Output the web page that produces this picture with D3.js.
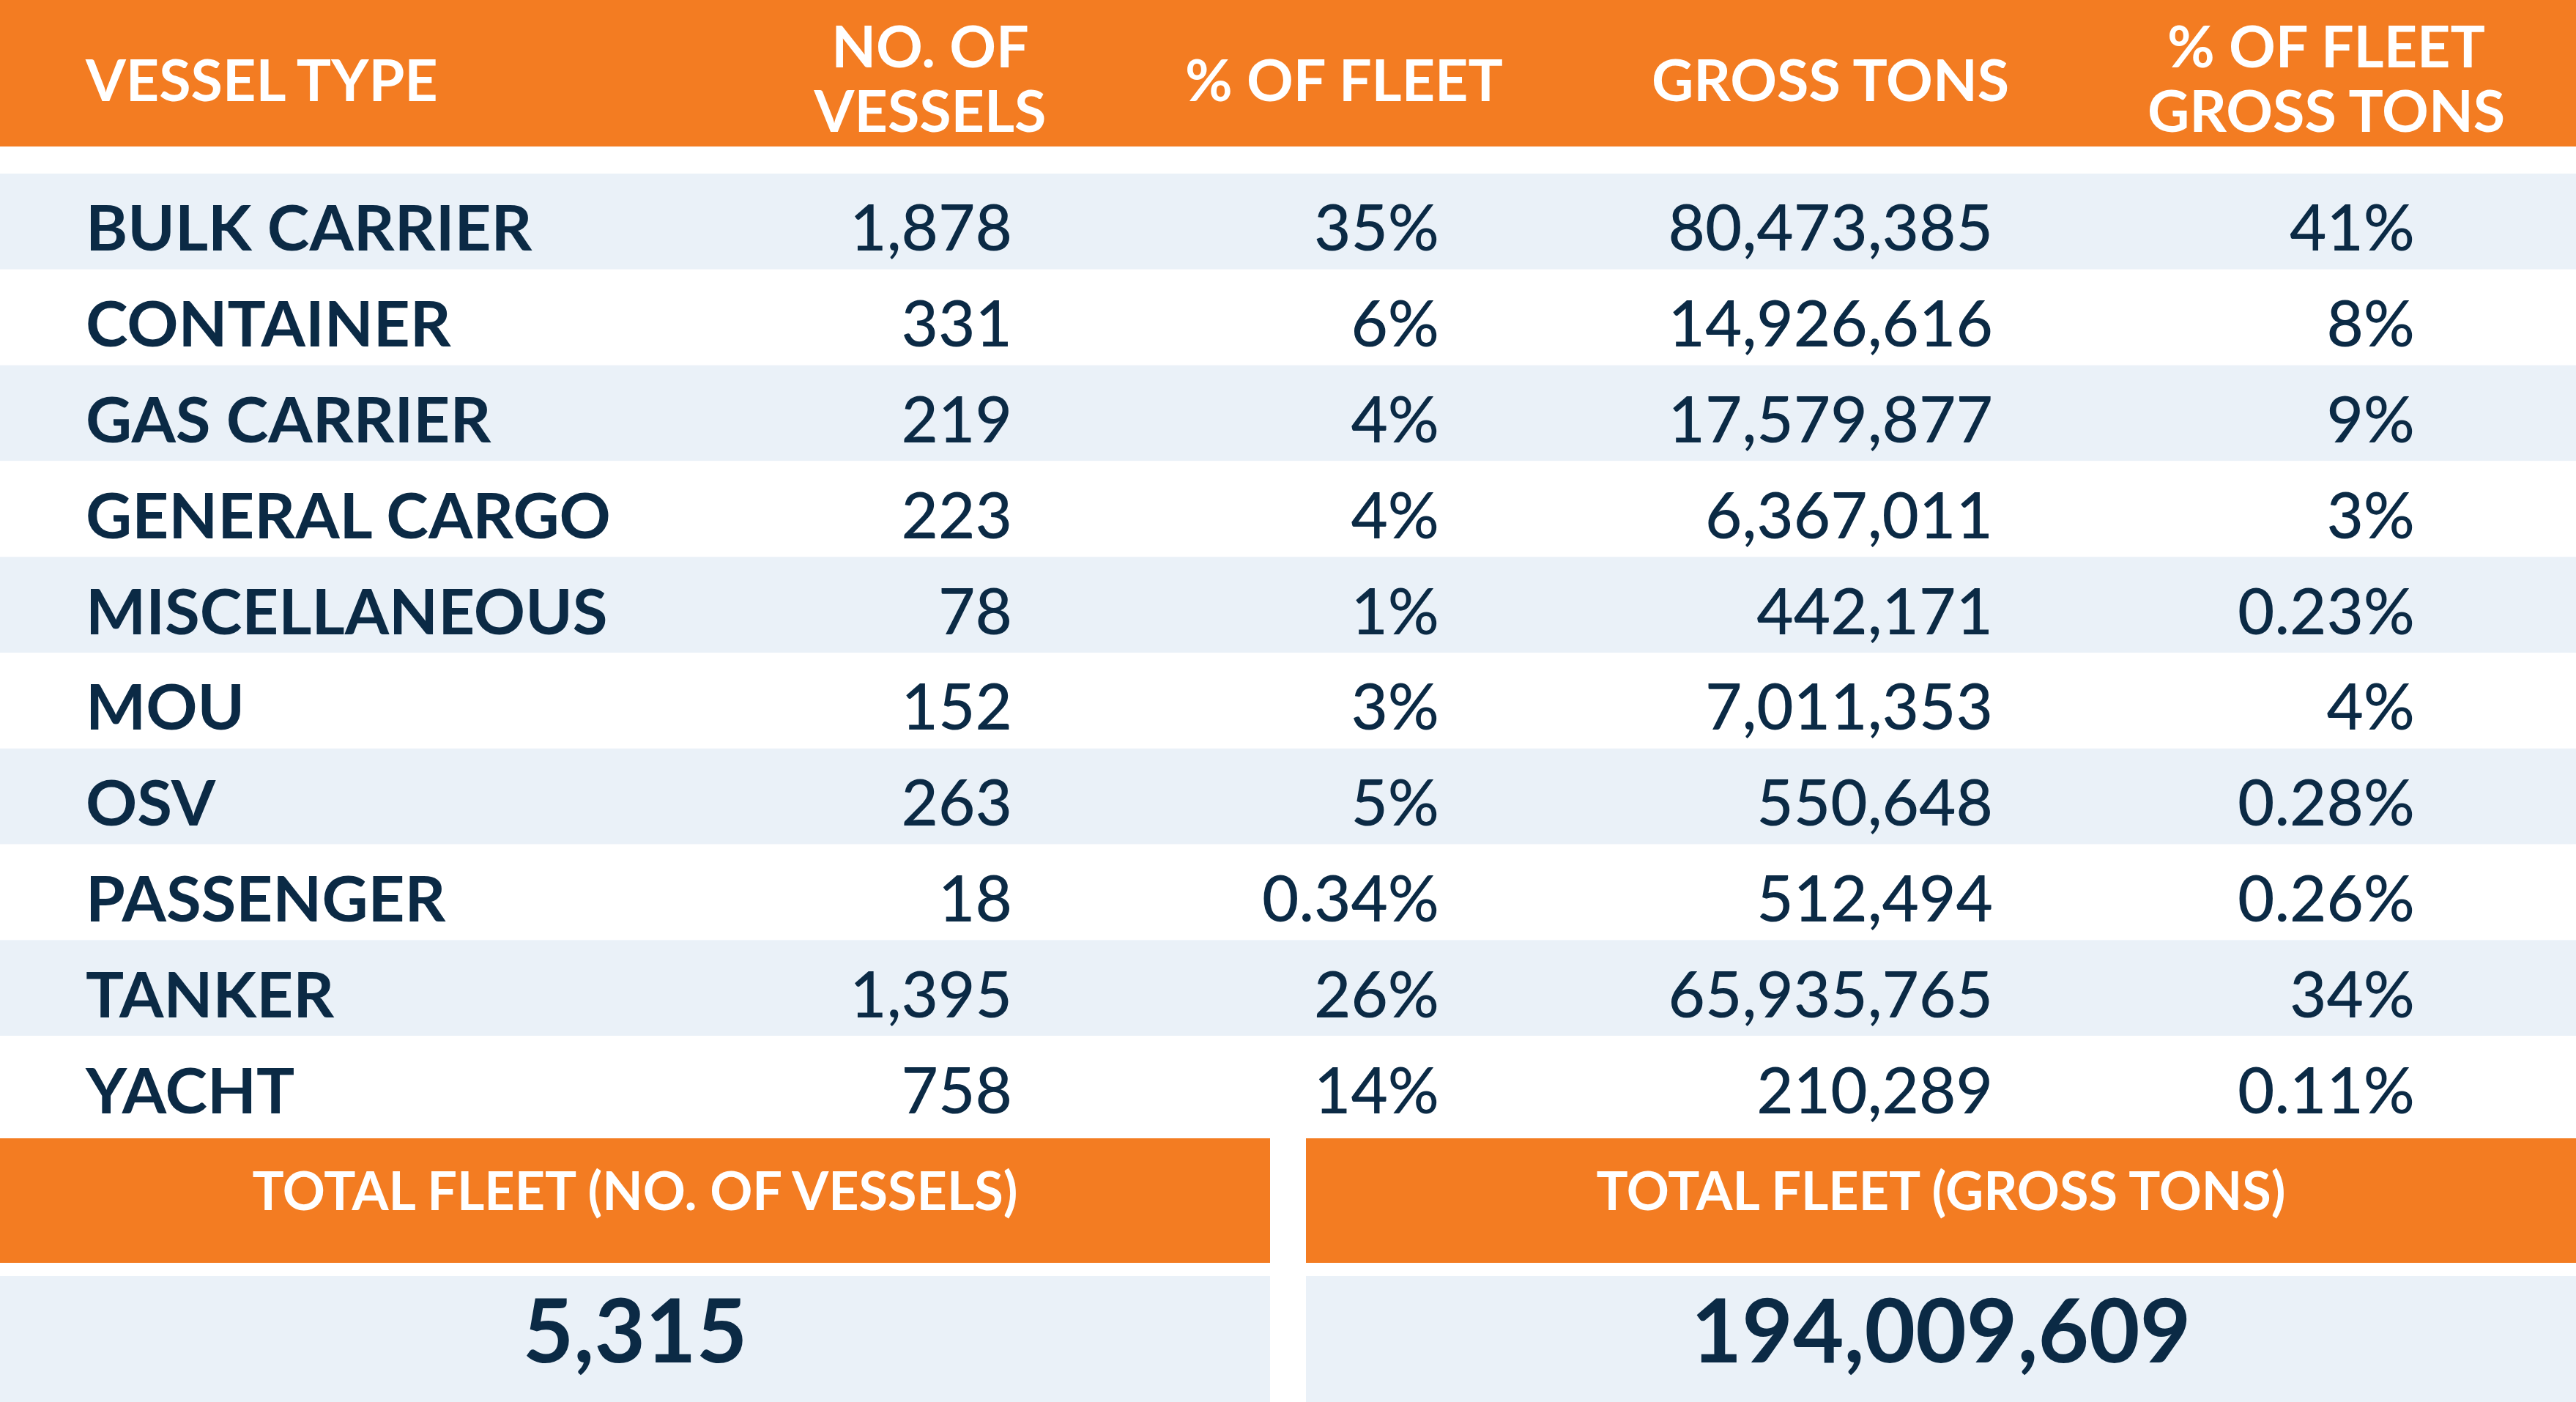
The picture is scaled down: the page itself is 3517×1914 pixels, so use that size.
<!DOCTYPE html>
<html>
<head>
<meta charset="utf-8">
<script src="https://cdn.jsdelivr.net/npm/d3@7"></script>
<style>
  body { margin: 0; background: #fff; }
  svg { display: block; font-family: Lato, "Open Sans", sans-serif; }
</style>
</head>
<body>
<div id="chart"></div>
<script>
const width = 3517, height = 1914;

// table data
const vesselTypes = ["BULK CARRIER", "CONTAINER", "GAS CARRIER", "GENERAL CARGO", "MISCELLANEOUS", "MOU", "OSV", "PASSENGER", "TANKER", "YACHT"];
const numVessels = ["1,878", "331", "219", "223", "78", "152", "263", "18", "1,395", "758"];
const pctFleet = ["35%", "6%", "4%", "4%", "1%", "3%", "5%", "0.34%", "26%", "14%"];
const grossTons = ["80,473,385", "14,926,616", "17,579,877", "6,367,011", "442,171", "7,011,353", "550,648", "512,494", "65,935,765", "210,289"];
const pctGross = ["41%", "8%", "9%", "3%", "0.23%", "4%", "0.28%", "0.26%", "34%", "0.11%"];
const headers = [["VESSEL TYPE"], ["NO. OF", "VESSELS"], ["% OF FLEET"], ["GROSS TONS"], ["% OF FLEET", "GROSS TONS"]];
const totalLabels = ["TOTAL FLEET (NO. OF VESSELS)", "TOTAL FLEET (GROSS TONS)"];
const totalValues = ["5,315", "194,009,609"];

const orange = "#f37c22", navy = "#0b2a45", light = "#eaf1f8";

const svg = d3.select("#chart").append("svg").attr("width", width).attr("height", height);

// header band
svg.append("rect").attr("width", width).attr("height", 200).attr("fill", orange);

// header columns: anchor x and alignment
const headX = [117, 1270, 1835, 2499, 3176];
const headAnchor = ["start", "middle", "middle", "middle", "middle"];
headers.forEach((lines, i) => {
  const t = svg.append("text")
    .attr("x", headX[i])
    .attr("text-anchor", headAnchor[i])
    .attr("fill", "#fff")
    .attr("font-size", 79)
    .attr("font-weight", 700);
  const base = lines.length === 1 ? [138] : [92, 180];
  lines.forEach((l, j) => t.append("tspan").attr("x", headX[i]).attr("y", base[j]).text(l));
});

// rows
const y = d3.scaleBand().domain(d3.range(vesselTypes.length)).range([237, 1545]);
const rows = svg.append("g").selectAll("g").data(vesselTypes).join("g")
  .attr("transform", (d, i) => `translate(0,${y(i)})`);

rows.append("rect")
  .attr("width", width)
  .attr("height", y.bandwidth())
  .attr("fill", (d, i) => i % 2 === 0 ? light : "#fff");

const cols = [
  { vals: vesselTypes, x: 117, anchor: "start" },
  { vals: numVessels, x: 1382, anchor: "end" },
  { vals: pctFleet, x: 1965, anchor: "end" },
  { vals: grossTons, x: 2721, anchor: "end" },
  { vals: pctGross, x: 3297, anchor: "end" },
];
cols.forEach((c) => {
  rows.append("text")
    .attr("x", c.x)
    .attr("y", y.bandwidth() / 2 + 40)
    .attr("text-anchor", c.anchor)
    .attr("fill", navy)
    .attr("font-size", 87)
    .attr("font-weight", c.anchor === "start" ? 700 : 500)
    .text((d, i) => c.vals[i]);
});

// totals
const boxX = [0, 1783], boxW = [1734, 1734];
totalLabels.forEach((lbl, i) => {
  svg.append("rect").attr("x", boxX[i]).attr("y", 1554).attr("width", boxW[i]).attr("height", 170).attr("fill", orange);
  svg.append("rect").attr("x", boxX[i]).attr("y", 1742).attr("width", boxW[i]).attr("height", 172).attr("fill", light);
  svg.append("text")
    .attr("x", boxX[i] + boxW[i] / 2).attr("y", 1652)
    .attr("text-anchor", "middle").attr("fill", "#fff")
    .attr("font-size", 72).attr("font-weight", 700)
    .text(lbl);
  svg.append("text")
    .attr("x", boxX[i] + boxW[i] / 2).attr("y", 1860)
    .attr("text-anchor", "middle").attr("fill", navy)
    .attr("font-size", 120).attr("font-weight", 700)
    .text(totalValues[i]);
});
</script>
</body>
</html>
